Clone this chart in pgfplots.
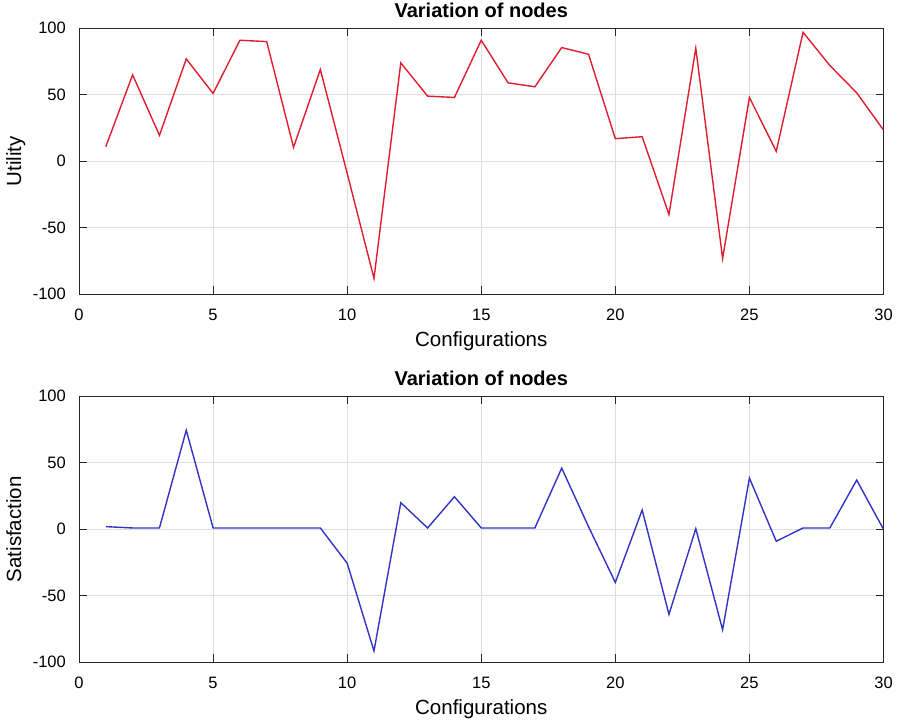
\documentclass[border=0pt]{standalone}
\usepackage{fontspec}
\setmainfont{Liberation Sans}
\usepackage{pgfplots}
\pgfplotsset{compat=1.18}
\definecolor{myred}{RGB}{222,30,48}
\definecolor{myblue}{RGB}{52,52,196}
\definecolor{gridc}{RGB}{222,222,222}
\definecolor{axc}{RGB}{38,38,38}
\pgfplotsset{
 myax/.style={
  scale only axis, width=804.5pt, height=266pt,
  xmin=0, xmax=30, ymin=-100, ymax=100,
  xtick={0,5,...,30}, ytick={-100,-50,0,50,100},
  grid=major, major grid style={gridc, line width=0.8pt},
  axis line style={axc, line width=1pt},
  tick style={axc, line width=1pt},
  major tick length=8pt,
  tick align=inside,
  tick pos=both,
  /pgf/number format/assume math mode=true,
  ticklabel style={font=\fontsize{16.5}{18}\selectfont},
  xticklabel style={anchor=base, yshift=-26pt},
  yticklabel style={anchor=east, inner sep=0pt, xshift=-13pt},
  title={Variation of nodes},
  title style={at={(axis description cs:0.5,1)}, anchor=base, yshift=4.3pt, font=\bfseries\fontsize{20}{24}\selectfont},
  xlabel={Configurations},
  xlabel style={at={(axis description cs:0.5,0)}, anchor=base, yshift=-52.5pt, font=\fontsize{20.5}{24}\selectfont},
  ylabel style={at={(axis description cs:-0.072,0.5)}, anchor=base, rotate=0, font=\fontsize{20.5}{24}\selectfont},
 }
}
\begin{document}
\begin{tikzpicture}
\path[use as bounding box] (0pt,0pt) rectangle (899pt,722pt);
\begin{axis}[myax, at={(79pt,427.7pt)}, anchor=south west, ylabel={Utility}]
\addplot[myred, line width=1.4pt] coordinates {
(1,11) (2,65) (3,19.5) (4,77) (5,51) (6,91) (7,90) (8,10.5) (9,69) (10,-9)
(11,-88) (12,74) (13,49) (14,48) (15,91) (16,59) (17,56) (18,85.5) (19,80.5) (20,17)
(21,18.5) (22,-40) (23,85) (24,-73) (25,48) (26,7.5) (27,97) (28,72) (29,51.5) (30,23.5)
};
\end{axis}
\begin{axis}[myax, at={(79pt,59.7pt)}, anchor=south west, ylabel={Satisfaction}]
\addplot[myblue, line width=1.4pt] coordinates {
(1,2) (2,1) (3,1) (4,74.5) (5,1) (6,1) (7,1) (8,1) (9,1) (10,-25.5)
(11,-91.5) (12,20) (13,1) (14,24.5) (15,1) (16,1) (17,1) (18,46) (19,2) (20,-40)
(21,14.5) (22,-64) (23,0.5) (24,-75.5) (25,38.5) (26,-9) (27,1) (28,1) (29,37) (30,0)
};
\end{axis}
\end{tikzpicture}
\end{document}
